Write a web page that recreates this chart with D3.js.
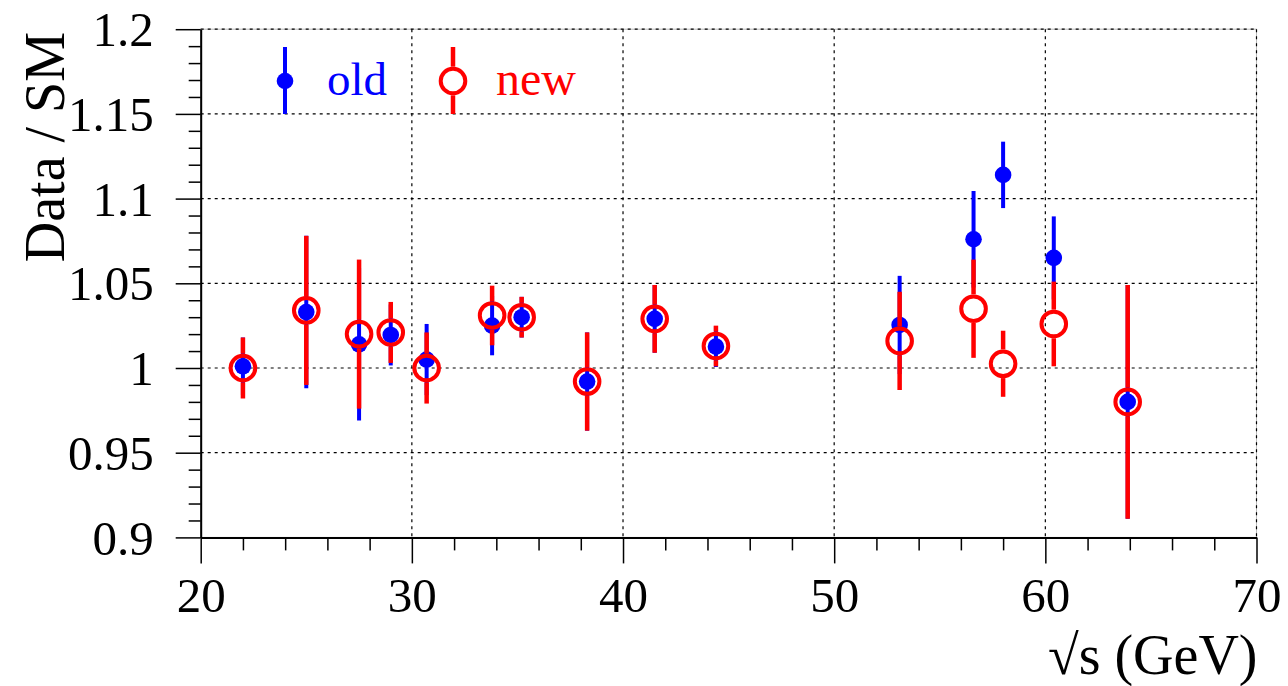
<!DOCTYPE html>
<html>
<head>
<meta charset="utf-8">
<script src="https://cdn.jsdelivr.net/npm/d3@7"></script>
<style>
  body { margin: 0; background: #fff; }
  svg { display: block; font-family: 'Liberation Serif', 'Times New Roman', serif; }
</style>
</head>
<body>
<div id="chart"></div>
<script>
// centre-of-mass energies (GeV)
const energies = [22.0, 25.0, 27.5, 29.0, 30.7, 33.8, 35.2, 38.3, 41.5, 44.4, 53.1, 56.6, 58.0, 60.4, 63.9];
// old analysis: Data / SM and its error
const oldRatio = [1.001, 1.033, 1.014, 1.0195, 1.005, 1.025, 1.030, 0.992, 1.029, 1.0126, 1.0254, 1.076, 1.114, 1.065, 0.980];
const oldErr = [0.017, 0.045, 0.045, 0.018, 0.021, 0.0175, 0.012, 0.029, 0.020, 0.012, 0.029, 0.0285, 0.0196, 0.0245, 0.069];
// new analysis
const newRatio = [1.000, 1.034, 1.020, 1.021, 1.000, 1.031, 1.030, 0.992, 1.029, 1.013, 1.016, 1.035, 1.0025, 1.026, 0.980];
const newErr = [0.018, 0.044, 0.044, 0.018, 0.021, 0.0176, 0.012, 0.029, 0.020, 0.012, 0.029, 0.029, 0.0195, 0.025, 0.069];

const xTicks = [20, 30, 40, 50, 60, 70];
const yTicks = [0.9, 0.95, 1, 1.05, 1.1, 1.15, 1.2];

class RatioPlot {
  constructor(_config) {
    this.config = {
      parentElement: _config.parentElement,
      containerWidth: 1288,
      containerHeight: 686,
      margin: { top: 29.2, right: 31.5, bottom: 148.6, left: 200.7 },
      blue: '#0000ff',
      red: '#ff0000',
    };
    this.initVis();
  }

  initVis() {
    const vis = this;
    const m = vis.config.margin;
    vis.width = vis.config.containerWidth - m.left - m.right;
    vis.height = vis.config.containerHeight - m.top - m.bottom;

    vis.svg = d3.select(vis.config.parentElement).append('svg')
      .attr('width', vis.config.containerWidth)
      .attr('height', vis.config.containerHeight);

    vis.chartArea = vis.svg.append('g')
      .attr('transform', `translate(${m.left},${m.top})`);

    vis.xScale = d3.scaleLinear().domain([20, 70]).range([0, vis.width]);
    vis.yScale = d3.scaleLinear().domain([0.9, 1.2]).range([vis.height, 0]);

    vis.renderVis();
  }

  renderVis() {
    const vis = this;
    const x = vis.xScale, y = vis.yScale;
    const g = vis.chartArea;

    // light frame on top/right
    g.append('rect')
      .attr('width', vis.width).attr('height', vis.height)
      .attr('fill', 'none').attr('stroke', '#bbb').attr('stroke-width', 1);

    // dotted grid
    g.append('g').selectAll('line').data(xTicks.slice(1)).join('line')
      .attr('x1', (d) => x(d)).attr('x2', (d) => x(d))
      .attr('y1', 0).attr('y2', vis.height)
      .attr('stroke', '#000').attr('stroke-width', 1.2).attr('stroke-dasharray', '3,4');
    g.append('g').selectAll('line').data(yTicks.slice(1)).join('line')
      .attr('x1', 0).attr('x2', vis.width)
      .attr('y1', (d) => y(d)).attr('y2', (d) => y(d))
      .attr('stroke', '#000').attr('stroke-width', 1.2).attr('stroke-dasharray', '3,4');

    // axes: major and minor ticks point outward
    const xMinor = d3.range(20, 70.01, 2).filter((v) => v % 10 !== 0);
    const yMinor = d3.range(90, 120.01, 1).map((v) => v / 100).filter((v) => Math.round(v * 100) % 5 !== 0);

    const xAxisG = g.append('g').attr('transform', `translate(0,${vis.height})`);
    xAxisG.call(d3.axisBottom(x).tickValues(xMinor).tickSize(13).tickFormat(''))
      .call((s) => s.select('.domain').remove());
    xAxisG.append('g').call(d3.axisBottom(x).tickValues(xTicks).tickSize(26).tickSizeOuter(0).tickPadding(14).tickFormat(d3.format('d')))
      .call((s) => s.select('.domain').attr('stroke-width', 2));

    const yAxisG = g.append('g');
    yAxisG.call(d3.axisLeft(y).tickValues(yMinor).tickSize(12).tickFormat(''))
      .call((s) => s.select('.domain').remove());
    yAxisG.append('g').call(d3.axisLeft(y).tickValues(yTicks).tickSize(25).tickSizeOuter(0).tickPadding(22).tickFormat((d) => d3.format('')(+d.toFixed(2))))
      .call((s) => s.select('.domain').attr('stroke-width', 2));

    vis.svg.selectAll('.tick line').attr('stroke-width', 1.5);
    vis.svg.selectAll('.tick text')
      .attr('font-family', "'Liberation Serif', serif")
      .attr('font-size', 49)
      .attr('fill', '#000');
    yAxisG.selectAll('.tick text').attr('dy', '0.34em');
    xAxisG.selectAll('.tick text').attr('dy', '0.71em');

    // axis titles
    vis.svg.append('text')
      .attr('x', vis.config.margin.left + vis.width + 1)
      .attr('y', 674)
      .attr('text-anchor', 'end')
      .attr('font-size', 56)
      .text('\u221As (GeV)');
    vis.svg.append('text')
      .attr('transform', 'translate(64,32) rotate(-90)')
      .attr('text-anchor', 'end')
      .attr('font-size', 56)
      .text('Data / SM');

    const rDot = 8.3;
    const rRing = 12.3;
    const ringW = 4;

    const oldPts = energies.map((e, i) => ({ e, v: oldRatio[i], err: oldErr[i] }));
    const newPts = energies.map((e, i) => ({ e, v: newRatio[i], err: newErr[i] }));

    // old: filled blue points
    const oldG = g.append('g');
    oldG.selectAll('line').data(oldPts).join('line')
      .attr('x1', (d) => x(d.e)).attr('x2', (d) => x(d.e))
      .attr('y1', (d) => y(d.v + d.err)).attr('y2', (d) => y(d.v - d.err))
      .attr('stroke', vis.config.blue).attr('stroke-width', 4);
    oldG.selectAll('circle').data(oldPts).join('circle')
      .attr('cx', (d) => x(d.e)).attr('cy', (d) => y(d.v))
      .attr('r', rDot).attr('fill', vis.config.blue);

    // new: open red circles, bars stop at the ring
    const edge = rRing + ringW / 2;
    const newG = g.append('g');
    newG.selectAll('line.up').data(newPts).join('line').attr('class', 'up')
      .attr('x1', (d) => x(d.e)).attr('x2', (d) => x(d.e))
      .attr('y1', (d) => y(d.v + d.err)).attr('y2', (d) => Math.max(y(d.v + d.err), y(d.v) - edge))
      .attr('stroke', vis.config.red).attr('stroke-width', 4.5);
    newG.selectAll('line.down').data(newPts).join('line').attr('class', 'down')
      .attr('x1', (d) => x(d.e)).attr('x2', (d) => x(d.e))
      .attr('y1', (d) => Math.min(y(d.v - d.err), y(d.v) + edge)).attr('y2', (d) => y(d.v - d.err))
      .attr('stroke', vis.config.red).attr('stroke-width', 4.5);
    newG.selectAll('circle').data(newPts).join('circle')
      .attr('cx', (d) => x(d.e)).attr('cy', (d) => y(d.v))
      .attr('r', rRing).attr('fill', 'none')
      .attr('stroke', vis.config.red).attr('stroke-width', ringW);

    // legend (pixel layout inside the frame)
    const leg = vis.svg.append('g');
    const ly = 81;
    leg.append('line').attr('x1', 285).attr('x2', 285).attr('y1', 47).attr('y2', 114)
      .attr('stroke', vis.config.blue).attr('stroke-width', 4);
    leg.append('circle').attr('cx', 285).attr('cy', ly).attr('r', rDot).attr('fill', vis.config.blue);
    leg.append('text').attr('x', 327).attr('y', 95).attr('font-size', 47)
      .attr('fill', vis.config.blue).text('old');

    leg.append('line').attr('x1', 453).attr('x2', 453).attr('y1', 47).attr('y2', ly - edge)
      .attr('stroke', vis.config.red).attr('stroke-width', 4.5);
    leg.append('line').attr('x1', 453).attr('x2', 453).attr('y1', ly + edge).attr('y2', 114)
      .attr('stroke', vis.config.red).attr('stroke-width', 4.5);
    leg.append('circle').attr('cx', 453).attr('cy', ly).attr('r', rRing).attr('fill', 'none')
      .attr('stroke', vis.config.red).attr('stroke-width', ringW);
    leg.append('text').attr('x', 496).attr('y', 95).attr('font-size', 48)
      .attr('fill', vis.config.red).text('new');
  }
}

new RatioPlot({ parentElement: '#chart' });
</script>
</body>
</html>
